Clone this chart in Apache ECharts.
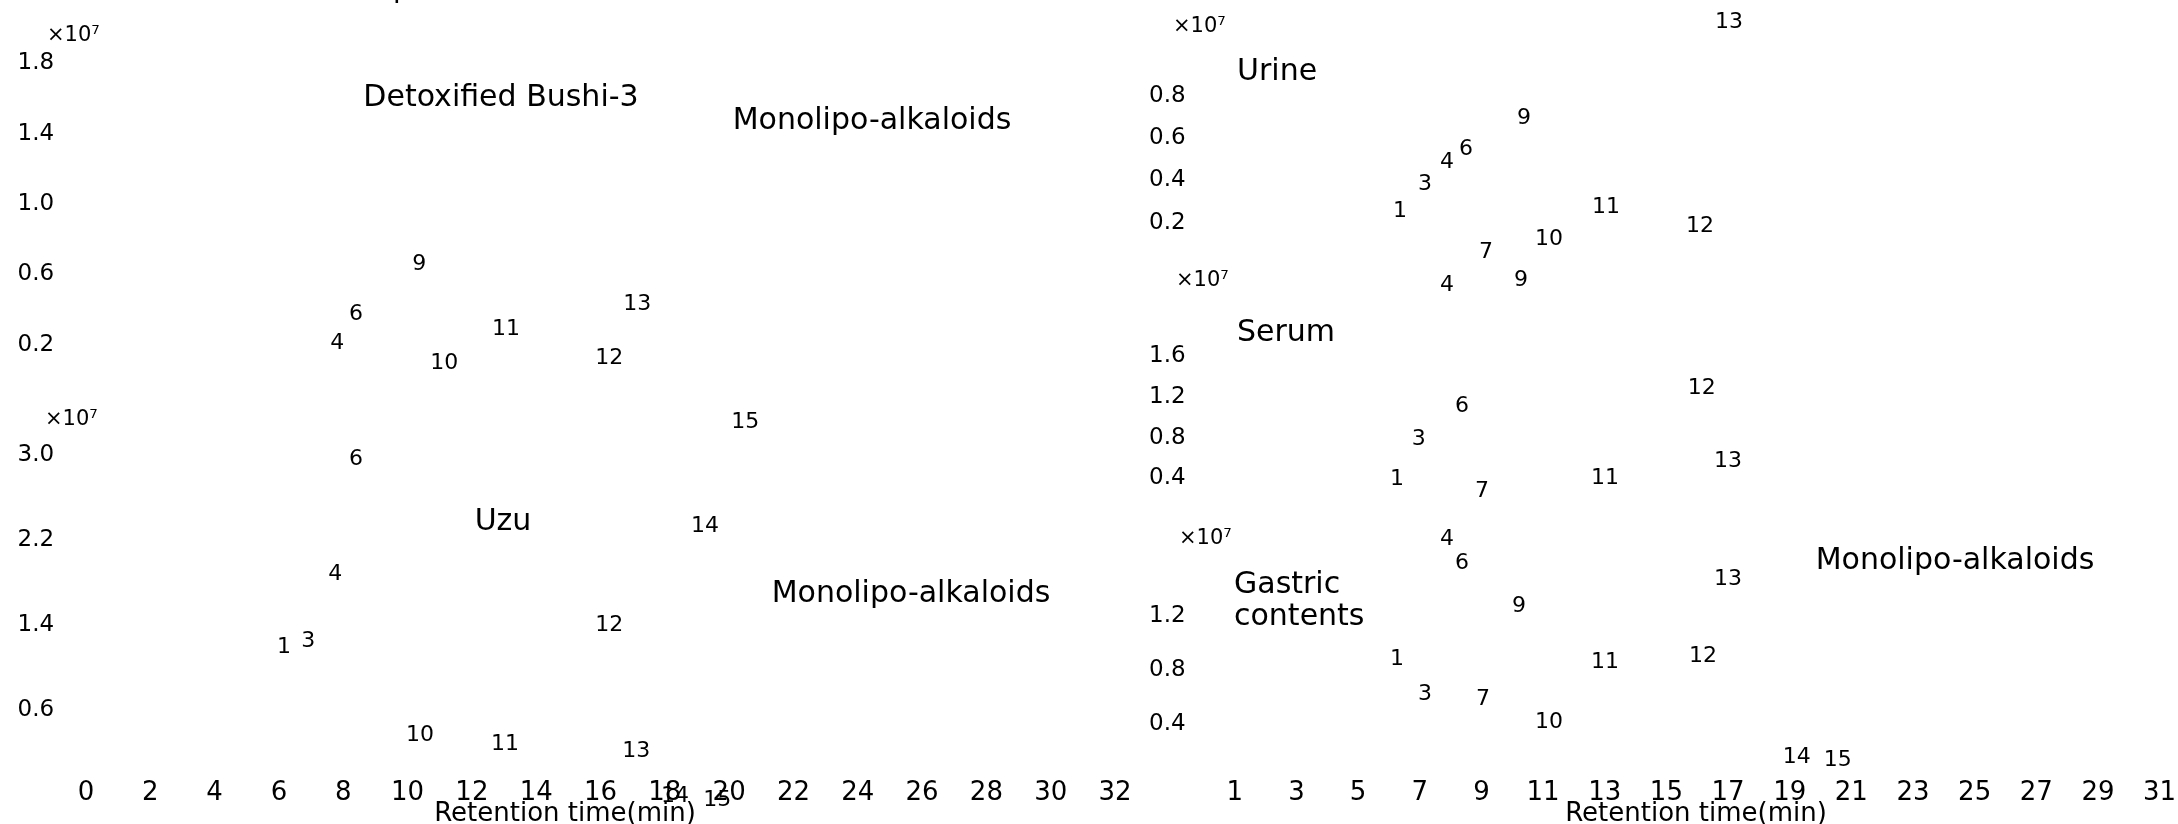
<!DOCTYPE html>
<html><head><meta charset="utf-8">
<script src="https://cdn.jsdelivr.net/npm/echarts@6/dist/echarts.min.js"></script>
<style>html,body{margin:0;padding:0;background:#fff}#c{width:2178px;height:824px}</style>
</head><body><div id="c"></div>
<script>
const FONT = '"DejaVu Sans"';

// tick labels
const leftTimeTicks = [0, 2, 4, 6, 8, 10, 12, 14, 16, 18, 20, 22, 24, 26, 28, 30, 32];
const rightTimeTicks = [1, 3, 5, 7, 9, 11, 13, 15, 17, 19, 21, 23, 25, 27, 29, 31];
const bushiTicks = [0.2, 0.6, 1.0, 1.4, 1.8];
const uzuTicks = [0.6, 1.4, 2.2, 3.0];
const urineTicks = [0.2, 0.4, 0.6, 0.8];
const serumTicks = [0.4, 0.8, 1.2, 1.6];
const gastricTicks = [0.4, 0.8, 1.2];

// peaks: number, retention time (min), intensity (x10^7)
const bushiPeaks = ['9', '6', '4', '13', '11', '10', '12'];
const bushiTimes = [10.36, 8.40, 7.81, 17.14, 13.06, 11.14, 16.27];
const bushiHeights = [0.66, 0.375, 0.21, 0.43, 0.29, 0.097, 0.125];

const uzuPeaks = ['15', '6', '14', '4', '12', '1', '3', '10', '11', '13', '14', '15'];
const uzuTimes = [20.50, 8.40, 19.25, 7.75, 16.27, 6.16, 6.91, 10.39, 13.03, 17.11, 18.32, 19.63];
const uzuHeights = [3.31, 2.96, 2.33, 1.88, 1.40, 1.19, 1.25, 0.36, 0.28, 0.21, -0.21, -0.25];

const urinePeaks = ['13', '9', '6', '4', '3', '1', '11', '12', '10', '7'];
const urineTimes = [17.03, 10.38, 8.50, 7.88, 7.17, 6.36, 13.04, 16.09, 11.19, 9.15];
const urineHeights = [1.148, 0.694, 0.548, 0.487, 0.383, 0.255, 0.274, 0.184, 0.123, 0.061];

const serumPeaks = ['4', '9', '12', '6', '3', '13', '1', '11', '7'];
const serumTimes = [7.88, 10.28, 16.15, 8.37, 6.97, 17.00, 6.26, 13.01, 9.02];
const serumHeights = [2.30, 2.35, 1.29, 1.11, 0.78, 0.57, 0.39, 0.40, 0.27];

const gastricPeaks = ['4', '6', '13', '9', '1', '11', '12', '3', '7', '10', '14', '15'];
const gastricTimes = [7.88, 8.37, 17.00, 10.22, 6.26, 13.01, 16.19, 7.17, 9.05, 11.19, 19.23, 20.56];
const gastricHeights = [1.77, 1.59, 1.47, 1.27, 0.88, 0.86, 0.90, 0.62, 0.58, 0.41, 0.15, 0.13];

const panels = [
  { grid: { left: 86, top: 28, width: 1029, height: 352 }, xMax: 32, xTicks: null, yMin: 0, yMax: 2.0, yTicks: bushiTicks, yMargin: 68.5, peaks: bushiPeaks, times: bushiTimes, heights: bushiHeights },
  { grid: { left: 86, top: 412.75, width: 1029, height: 361.25 }, xMax: 32, xTicks: leftTimeTicks, xMargin: 6, yMin: 0, yMax: 3.4, yTicks: uzuTicks, yMargin: 68.5, peaks: uzuPeaks, times: uzuTimes, heights: uzuHeights },
  { grid: { left: 1204, top: 11, width: 971, height: 254 }, xMax: 31.5, xTicks: null, yMin: 0, yMax: 1.2, yTicks: urineTicks, yMargin: 55, peaks: urinePeaks, times: urineTimes, heights: urineHeights },
  { grid: { left: 1204, top: 264.75, width: 971, height: 254.25 }, xMax: 31.5, xTicks: null, yMin: 0, yMax: 2.5, yTicks: serumTicks, yMargin: 55, peaks: serumPeaks, times: serumTimes, heights: serumHeights },
  { grid: { left: 1204, top: 521.5, width: 971, height: 256.5 }, xMax: 31.5, xTicks: rightTimeTicks, xMargin: 2, yMin: 0, yMax: 1.9, yTicks: gastricTicks, yMargin: 55, peaks: gastricPeaks, times: gastricTimes, heights: gastricHeights }
];

const grids = [], xAxes = [], yAxes = [], series = [];
panels.forEach((p, i) => {
  grids.push(Object.assign({ containLabel: false, outerBoundsMode: 'none' }, p.grid));
  xAxes.push({
    type: 'value', gridIndex: i, min: 0, max: p.xMax,
    axisLine: { show: false }, axisTick: { show: false }, splitLine: { show: false },
    axisLabel: p.xTicks ? {
      show: true, customValues: p.xTicks, margin: p.xMargin, color: '#000',
      fontFamily: FONT, fontSize: 26, showMinLabel: true, showMaxLabel: true
    } : { show: false }
  });
  yAxes.push({
    type: 'value', gridIndex: i, min: p.yMin, max: p.yMax,
    axisLine: { show: false }, axisTick: { show: false }, splitLine: { show: false },
    axisLabel: {
      show: true, customValues: p.yTicks, margin: p.yMargin, align: 'left', color: '#000',
      fontFamily: FONT, fontSize: 23, formatter: v => Number(v).toFixed(1)
    }
  });
  series.push({
    type: 'scatter', xAxisIndex: i, yAxisIndex: i, silent: true, clip: false,
    symbolSize: 1, itemStyle: { color: '#ffffff', opacity: 1 },
    label: { show: true, position: 'inside', formatter: '{b}', color: '#000000', opacity: 1,
      textBorderWidth: 0, fontFamily: FONT, fontSize: 22 },
    emphasis: { disabled: true },
    data: p.peaks.map((n, k) => ({ name: n, value: [p.times[k], p.heights[k]] }))
  });
});

function txt(text, x, y, size, align) {
  return { type: 'text', x: x, y: y, silent: true,
    style: { text: text, fill: '#000', font: size + 'px ' + FONT, align: align || 'center', verticalAlign: 'middle' } };
}

const graphics = [
  txt('p', 393, -10, 28, 'left'),
  txt('×10⁷', 47, 36, 21, 'left'),
  txt('×10⁷', 45, 420, 21, 'left'),
  txt('×10⁷', 1173, 27, 21, 'left'),
  txt('×10⁷', 1176, 281, 21, 'left'),
  txt('×10⁷', 1179, 539, 21, 'left'),
  txt('Detoxified Bushi-3', 501, 98, 30),
  txt('Monolipo-alkaloids', 872, 121, 30),
  txt('Uzu', 503, 522, 30),
  txt('Monolipo-alkaloids', 911, 594, 30),
  txt('Urine', 1237, 72, 30, 'left'),
  txt('Serum', 1237, 333, 30, 'left'),
  txt('Gastric', 1234, 585, 30, 'left'),
  txt('contents', 1234, 617, 30, 'left'),
  txt('Monolipo-alkaloids', 1955, 561, 30),
  txt('Retention time(min)', 565, 814, 26),
  txt('Retention time(min)', 1696, 814, 26)
];

const chart = echarts.init(document.getElementById('c'), null, { renderer: 'canvas' });
chart.setOption({
  animation: false,
  backgroundColor: '#fff',
  grid: grids, xAxis: xAxes, yAxis: yAxes, series: series,
  graphic: { elements: graphics }
});
</script></body></html>
